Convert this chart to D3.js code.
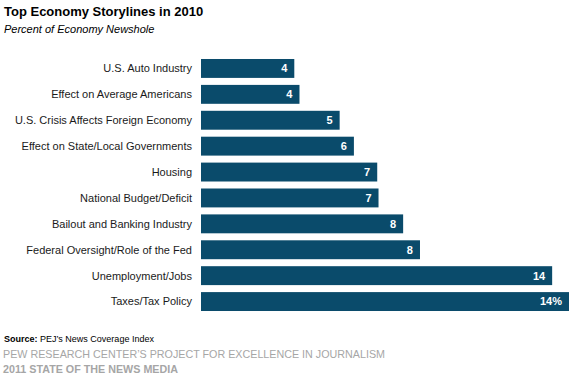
<!DOCTYPE html>
<html><head><meta charset="utf-8">
<script src="https://cdn.jsdelivr.net/npm/d3@7"></script>
<style>body{margin:0;background:#fff;}svg{display:block;font-family:"Liberation Sans",Arial,sans-serif;}</style>
</head><body>
<script>
const categories = ["U.S. Auto Industry","Effect on Average Americans","U.S. Crisis Affects Foreign Economy","Effect on State/Local Governments","Housing","National Budget/Deficit","Bailout and Banking Industry","Federal Oversight/Role of the Fed","Unemployment/Jobs","Taxes/Tax Policy"];
const values = [3.6, 3.8, 5.35, 5.9, 6.8, 6.85, 7.8, 8.45, 13.55, 14.2];
const valueLabels = ["4","4","5","6","7","7","8","8","14","14%"];

const W = 571, H = 379;
const svg = d3.select("body").append("svg").attr("width", W).attr("height", H);

const x = d3.scaleLinear().domain([0, 14.2]).range([201, 569]);
const y = d3.scaleBand().domain(categories).range([55.5, 314.5]).paddingInner(0.27).paddingOuter(0.135);

svg.append("text").attr("x", 4).attr("y", 16).attr("font-size", 13).attr("font-weight", "bold").attr("fill", "#000").text("Top Economy Storylines in 2010");
svg.append("text").attr("x", 4).attr("y", 33).attr("font-size", 11).attr("font-style", "italic").attr("fill", "#000").text("Percent of Economy Newshole");

svg.selectAll("rect.bar").data(categories).join("rect").attr("class", "bar")
  .attr("x", x(0)).attr("y", d => y(d))
  .attr("width", (d, i) => x(values[i]) - x(0)).attr("height", y.bandwidth())
  .attr("fill", "#0a4b6b");

svg.selectAll("text.cat").data(categories).join("text").attr("class", "cat")
  .attr("x", 192).attr("y", d => y(d) + y.bandwidth() / 2).attr("dy", "0.35em")
  .attr("text-anchor", "end").attr("font-size", 11).attr("fill", "#1a1a1a").text(d => d);

svg.selectAll("text.val").data(categories).join("text").attr("class", "val")
  .attr("x", (d, i) => x(values[i]) - 7).attr("y", d => y(d) + y.bandwidth() / 2).attr("dy", "0.35em")
  .attr("text-anchor", "end").attr("font-size", 11).attr("font-weight", "bold").attr("fill", "#fff")
  .text((d, i) => valueLabels[i]);

const src = svg.append("text").attr("x", 4).attr("y", 342).attr("font-size", 9).attr("fill", "#000");
src.append("tspan").attr("font-weight", "bold").text("Source:");
src.append("tspan").text(" PEJ\u2019s News Coverage Index");
svg.append("text").attr("x", 3).attr("y", 358).attr("font-size", 11).attr("fill", "#a6a6a6")
  .attr("textLength", 382).attr("lengthAdjust", "spacingAndGlyphs").text("PEW RESEARCH CENTER\u2019S PROJECT FOR EXCELLENCE IN JOURNALISM");
svg.append("text").attr("x", 3).attr("y", 373).attr("font-size", 11).attr("font-weight", "bold").attr("fill", "#a6a6a6")
  .attr("textLength", 175).attr("lengthAdjust", "spacingAndGlyphs").text("2011 STATE OF THE NEWS MEDIA");
</script>
</body></html>
